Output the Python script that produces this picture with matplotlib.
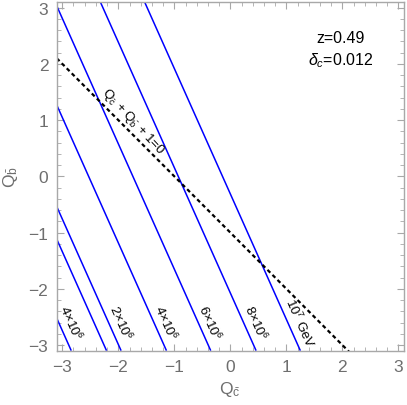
import numpy as np
import matplotlib
matplotlib.use("Agg")
import matplotlib.pyplot as plt
from matplotlib.ticker import MultipleLocator

plt.rcParams['font.family'] = ['Liberation Sans', 'DejaVu Sans']
plt.rcParams['mathtext.fontset'] = 'custom'
plt.rcParams['mathtext.rm'] = 'Liberation Sans'
plt.rcParams['mathtext.it'] = 'Liberation Sans:italic'
plt.rcParams['mathtext.bf'] = 'Liberation Sans:bold'

# ---- data ----
line_labels = ['4×10$^6$', '', '2×10$^6$', '4×10$^6$', '6×10$^6$', '8×10$^6$', '10$^7$ GeV']
qc_at_bottom = [-2.84, -2.21, -1.95, -1.14, -0.35, 0.46, 1.25]   # Q_c at Q_b = -3.1
line_slope = -2.23                                                # dQ_b / dQ_c
label_qb = -2.6
xlim = (-3.1, 3.1)
ylim = (-3.1, 3.1)
x_ticks = [-3, -2, -1, 0, 1, 2, 3]
y_ticks = [-3, -2, -1, 0, 1, 2, 3]
annot_lines = ['z=0.49', r'$\delta_c$=0.012']

fig = plt.figure(figsize=(4.07, 4.06), dpi=100)
ax = fig.add_axes([0.1393, 0.1338, 0.8533, 0.8588])

qb = np.linspace(ylim[0], ylim[1], 200)
for qc0, lab in zip(qc_at_bottom, line_labels):
    qc = qc0 + (qb - ylim[0]) / line_slope
    ax.plot(qc, qb, color='#0000ff', lw=1.1, solid_capstyle='butt')
    if lab:
        qc_lab = qc0 + (label_qb - ylim[0]) / line_slope + 0.21
        ax.text(qc_lab, label_qb, lab, rotation=-66, rotation_mode='anchor',
                ha='center', va='center', fontsize=9.5, color='black')

# dashed line Q_c + Q_b + 1 = 0
qcd = np.linspace(xlim[0], xlim[1], 200)
ax.plot(qcd, -1 - qcd, color='black', lw=1.6, linestyle=(0, (1.8, 1.4)))
ax.text(-1.74, 0.98, r'Q$_{\bar{\mathrm{c}}}$ + Q$_{\bar{\mathrm{b}}}$ + 1=0',
        rotation=-47, rotation_mode='anchor', ha='center', va='center',
        fontsize=9.5, color='black')

ax.text(1.97, 2.46, annot_lines[0], ha='center', va='center', fontsize=11.5)
ax.text(1.97, 2.08, annot_lines[1], ha='center', va='center', fontsize=11.5)

ax.set_xlim(*xlim)
ax.set_ylim(*ylim)
ax.set_xticks(x_ticks)
ax.set_yticks(y_ticks)
ax.set_xticklabels(['\u22123', '\u22122', '\u22121', '0', '1', '2', '3'])
ax.set_yticklabels(['\u22123', '\u22122', '\u22121', '0', '1', '2', '3'])
ax.xaxis.set_minor_locator(MultipleLocator(0.2))
ax.yaxis.set_minor_locator(MultipleLocator(0.2))
spine_col = '#a8a8a8'
for s in ax.spines.values():
    s.set_color(spine_col)
    s.set_linewidth(1.0)
ax.tick_params(which='both', direction='in', top=True, right=True, color=spine_col,
               labelcolor='#6e6e6e', labelsize=12.5)
ax.tick_params(which='major', length=5, width=0.8, pad=6)
ax.tick_params(which='minor', length=2.8, width=0.6)

fig.text(230 / 407, 1 - 390 / 406, r'Q$_{\bar{\mathrm{c}}}$', ha='center', va='center',
         fontsize=12.5, color='#6e6e6e')
fig.text(11 / 407, 1 - 177 / 406, r'Q$_{\bar{\mathrm{b}}}$', ha='center', va='center',
         fontsize=12.5, color='#6e6e6e', rotation=90)

fig.savefig('out.png', dpi=100)
